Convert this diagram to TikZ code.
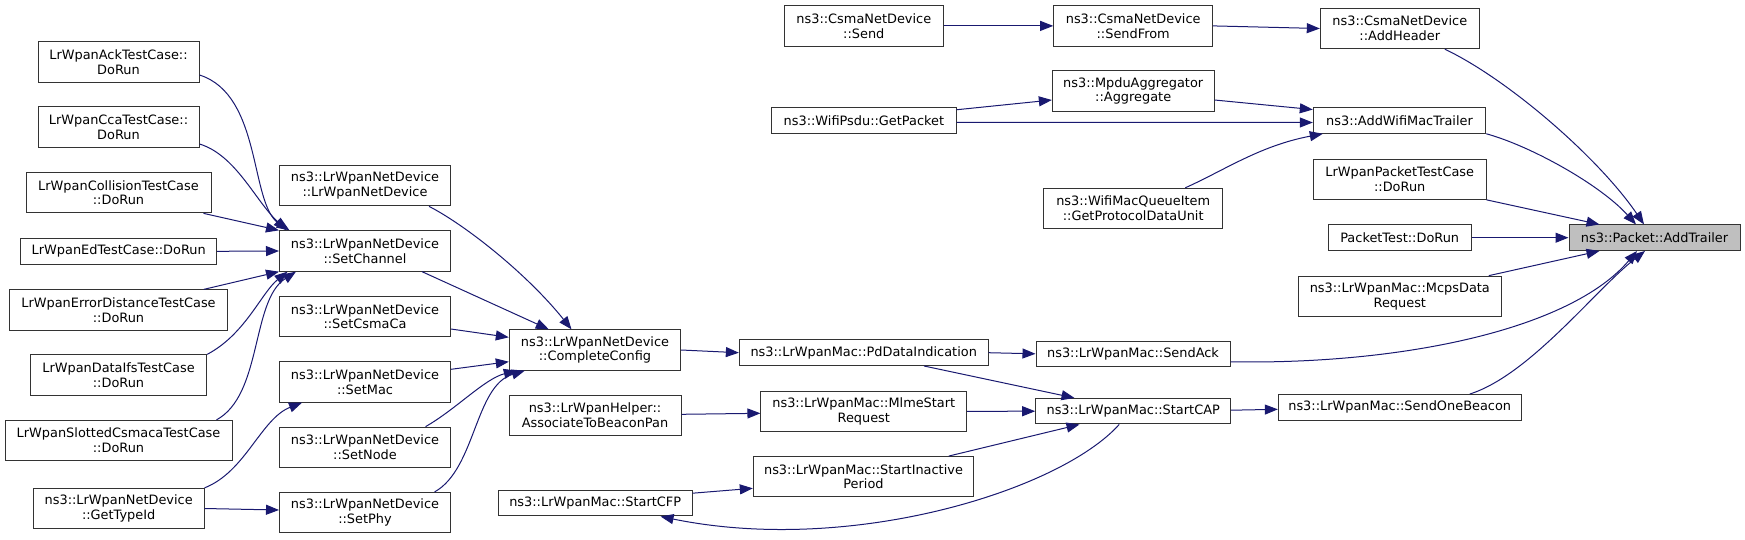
\documentclass[tikz,border=0pt]{standalone}
\usepackage{fontspec}
\setmainfont{DejaVu Sans}
\usepackage{xcolor}
\usepackage{tikz}
\usetikzlibrary{arrows.meta,calc}

\definecolor{edgeblue}{HTML}{191970}
\definecolor{selgray}{HTML}{BFBFBF}
\newcommand{\fnfont}{\fontsize{12.9}{14.7}\selectfont}

\begin{document}
\begin{tikzpicture}[
    x=1pt,y=-1pt,
    fn/.style={draw=black!80, fill=white, line width=1pt, inner sep=0pt, align=center,
               font=\fnfont, minimum height=25.5pt},
    fntwo/.style={fn, minimum height=40.3pt},
    fnsel/.style={fn, fill=selgray},
    arrow/.style={-{Triangle[length=13pt,width=10pt,fill=edgeblue]}, draw=edgeblue, line width=1pt}
]
\useasboundingbox (0,0) rectangle (1745,539);

% Test cases and device callers
\node[fntwo, minimum width=161pt] (ack) at (118.5,62) {LrWpanAckTestCase::\\DoRun};
\node[fntwo, minimum width=161pt] (cca) at (118.5,127) {LrWpanCcaTestCase::\\DoRun};
\node[fntwo, minimum width=185pt] (coll) at (118.5,192.7) {LrWpanCollisionTestCase\\::DoRun};
\node[fn, minimum width=196pt] (ed) at (118.7,251.3) {LrWpanEdTestCase::DoRun};
\node[fntwo, minimum width=217.6pt] (errdist) at (118.5,310) {LrWpanErrorDistanceTestCase\\::DoRun};
\node[fntwo, minimum width=176.4pt] (dataifs) at (118.5,375) {LrWpanDataIfsTestCase\\::DoRun};
\node[fntwo, minimum width=227pt] (slotted) at (118.5,440.5) {LrWpanSlottedCsmacaTestCase\\::DoRun};
\node[fntwo, minimum width=170.7pt] (typeid) at (118.7,508.5) {ns3::LrWpanNetDevice\\::GetTypeId};

% LrWpanNetDevice setters
\node[fntwo, minimum width=171pt] (ctor) at (365,185.7) {ns3::LrWpanNetDevice\\::LrWpanNetDevice};
\node[fntwo, minimum width=171pt] (setchannel) at (365,251) {ns3::LrWpanNetDevice\\::SetChannel};
\node[fntwo, minimum width=171pt] (setcsmaca) at (365,316.7) {ns3::LrWpanNetDevice\\::SetCsmaCa};
\node[fntwo, minimum width=171pt] (setmac) at (365,382) {ns3::LrWpanNetDevice\\::SetMac};
\node[fntwo, minimum width=171pt] (setnode) at (365,447.3) {ns3::LrWpanNetDevice\\::SetNode};
\node[fntwo, minimum width=171pt] (setphy) at (365,512.5) {ns3::LrWpanNetDevice\\::SetPhy};

% Middle columns
\node[fntwo, minimum width=171.4pt] (complete) at (595,350) {ns3::LrWpanNetDevice\\::CompleteConfig};
\node[fntwo, minimum width=172pt] (associate) at (595,415.3) {ns3::LrWpanHelper::\\AssociateToBeaconPan};
\node[fn, minimum width=193.7pt] (startcfp) at (595.2,503.2) {ns3::LrWpanMac::StartCFP};
\node[fntwo, minimum width=159pt] (csmasend) at (863.8,25.9) {ns3::CsmaNetDevice\\::Send};
\node[fn, minimum width=184.3pt] (getpacket) at (863.9,120.3) {ns3::WifiPsdu::GetPacket};
\node[fn, minimum width=248.7pt] (pddata) at (863.7,352.7) {ns3::LrWpanMac::PdDataIndication};
\node[fntwo, minimum width=205.7pt] (mlme) at (863.8,411.3) {ns3::LrWpanMac::MlmeStart\\Request};
\node[fntwo, minimum width=220.4pt] (inactive) at (863.5,476.7) {ns3::LrWpanMac::StartInactive\\Period};
\node[fntwo, minimum width=159pt] (sendfrom) at (1133.2,25.9) {ns3::CsmaNetDevice\\::SendFrom};
\node[fntwo, minimum width=161.7pt] (aggregate) at (1133.2,91) {ns3::MpduAggregator\\::Aggregate};
\node[fntwo, minimum width=179pt] (gpdu) at (1133.2,208.5) {ns3::WifiMacQueueItem\\::GetProtocolDataUnit};
\node[fn, minimum width=194pt] (sendack) at (1133,353.8) {ns3::LrWpanMac::SendAck};
\node[fn, minimum width=195pt] (startcap) at (1133.2,411.2) {ns3::LrWpanMac::StartCAP};

% Direct callers of the trailer function
\node[fntwo, minimum width=159pt] (addheader) at (1399.8,28.5) {ns3::CsmaNetDevice\\::AddHeader};
\node[fn, minimum width=172.4pt] (addwifi) at (1399.5,120.5) {ns3::AddWifiMacTrailer};
\node[fntwo, minimum width=172.7pt] (pkttest) at (1399.7,179.2) {LrWpanPacketTestCase\\::DoRun};
\node[fn, minimum width=142.7pt] (packettest) at (1399.7,237.7) {PacketTest::DoRun};
\node[fntwo, minimum width=203pt] (mcps) at (1399.8,296.3) {ns3::LrWpanMac::McpsData\\Request};
\node[fn, minimum width=242.7pt] (onebeacon) at (1399.7,407.3) {ns3::LrWpanMac::SendOneBeacon};
\node[fnsel, minimum width=171pt] (addtrailer) at (1654.5,237.7) {ns3::Packet::AddTrailer};

% Into SetChannel
\draw[arrow] ($(ack.east)+(0,13)$) .. controls +(63,20) and +(-40,-26) .. ($(setchannel.north west)+(10.5,0)$);
\draw[arrow] ($(cca.east)+(0,17)$) .. controls +(36,11) and +(-32,-31) .. ($(setchannel.north west)+(7.5,0)$);
\draw[arrow] ($(coll.south east)+(-8,0)$) -- (setchannel.north west);
\draw[arrow] (ed.east) -- (setchannel.west);
\draw[arrow] ($(errdist.north east)+(-24,0)$) -- (setchannel.south west);
\draw[arrow] (dataifs.north east) .. controls +(38,-20) and +(-26,21) .. ($(setchannel.south west)+(8.5,0)$);
\draw[arrow] ($(slotted.north east)+(-16,0)$) .. controls +(46,-25) and +(-45,29) .. ($(setchannel.south west)+(17,0)$);

% GetTypeId
\draw[arrow] (typeid.north east) .. controls +(41,-16) and +(-41,16) .. ($(setmac.south west)+(23,0)$);
\draw[arrow] (typeid.east) -- ($(setphy.west)+(0,-2.5)$);

% Into CompleteConfig
\draw[arrow] ($(ctor.south east)+(-22,0)$) .. controls +(37,19) and +(-44,-55) .. ($(complete.north west)+(62.7,0)$);
\draw[arrow] ($(setchannel.south east)+(-29,0)$) -- ($(complete.north west)+(40,0)$);
\draw[arrow] ($(setcsmaca.east)+(0,12.3)$) -- ($(complete.west)+(0,-12.7)$);
\draw[arrow] ($(setmac.east)+(0,-12.7)$) -- ($(complete.west)+(0,11.7)$);
\draw[arrow] ($(setnode.north east)+(-25.5,0)$) .. controls +(30,-17) and +(-32,8) .. ($(complete.south west)+(8,0)$);
\draw[arrow] ($(setphy.north east)+(-16.3,0)$) .. controls +(41,-23) and +(-50,15) .. ($(complete.south west)+(16,0)$);

% LrWpanMac chain
\draw[arrow] (complete.east) -- (pddata.west);
\draw[arrow] ($(associate.east)+(0,-1)$) -- ($(mlme.west)+(0,2)$);
\draw[arrow] ($(startcfp.east)+(0,-10)$) -- ($(inactive.west)+(0,11.6)$);
\draw[arrow] (pddata.east) -- (sendack.west);
\draw[arrow] ($(pddata.south east)+(-64.7,0)$) -- ($(startcap.north west)+(39.3,0)$);
\draw[arrow] (mlme.east) -- (startcap.west);
\draw[arrow] ($(inactive.north east)+(-25.4,0)$) -- ($(startcap.south west)+(44.3,0)$);
\draw[arrow] ($(startcap.south)+(-14,0)$) .. controls +(-59,66) and +(190,39) .. ($(startcfp.south east)+(-32,0)$);
\draw[arrow] ($(startcap.east)+(0,-1)$) -- ($(onebeacon.west)+(0,2)$);

% Csma and Wifi callers
\draw[arrow] (csmasend.east) -- (sendfrom.west);
\draw[arrow] (sendfrom.east) -- (addheader.west);
\draw[arrow] ($(getpacket.north east)+(0,2.7)$) -- ($(aggregate.west)+(0,9)$);
\draw[arrow] ($(getpacket.east)+(0,2)$) -- ($(addwifi.west)+(0,2)$);
\draw[arrow] ($(aggregate.east)+(0,9)$) -- ($(addwifi.north west)+(0,2.3)$);
\draw[arrow] ($(gpdu.north)+(52,0)$) .. controls +(40,-18) and +(-63,12) .. ($(addwifi.south west)+(10,0)$);

% Into AddTrailer
\draw[arrow] ($(addheader.south)+(45,0)$) .. controls +(65,31) and +(-44,-65) .. ($(addtrailer.north)+(-10.5,0)$);
\draw[arrow] (addwifi.south east) .. controls +(44,12) and +(-36,-40) .. ($(addtrailer.north)+(-18.5,0)$);
\draw[arrow] (pkttest.south east) -- ($(addtrailer.north west)+(31,0)$);
\draw[arrow] (packettest.east) -- (addtrailer.west);
\draw[arrow] ($(mcps.north east)+(-13,0)$) -- ($(addtrailer.south west)+(31,0)$);
\draw[arrow] ($(sendack.east)+(0,8)$) .. controls +(170,3) and +(-67,79) .. ($(addtrailer.south)+(-17.5,0)$);
\draw[arrow] ($(onebeacon.north)+(70,0)$) .. controls +(60,-19) and +(-50,39) .. ($(addtrailer.south)+(-9.5,0)$);
\end{tikzpicture}
\end{document}
